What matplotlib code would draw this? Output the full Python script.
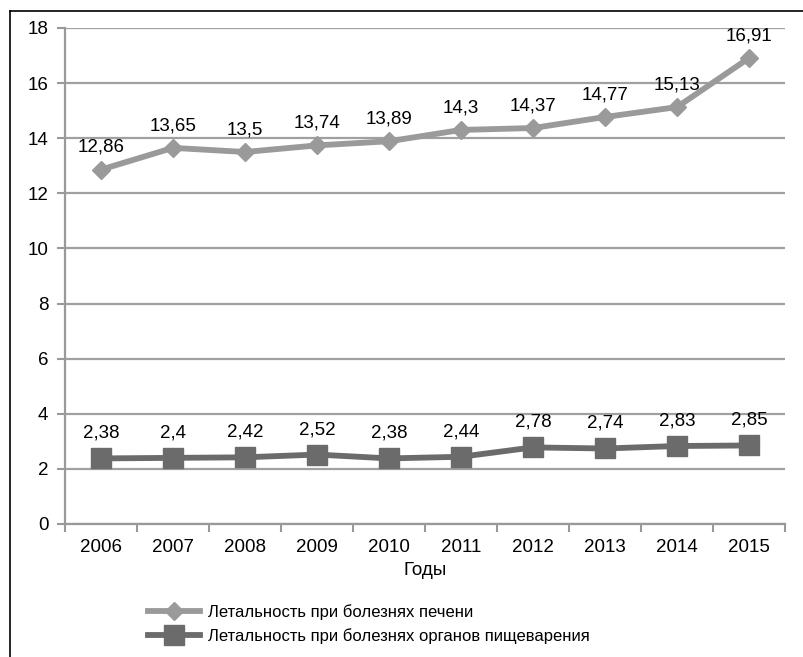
import matplotlib
matplotlib.use("Agg")
import matplotlib.pyplot as plt
from matplotlib.lines import Line2D
import numpy as np

plt.rcParams['font.family'] = ['Liberation Sans', 'DejaVu Sans']

years = ['2006', '2007', '2008', '2009', '2010', '2011', '2012', '2013', '2014', '2015']
liver = [12.86, 13.65, 13.5, 13.74, 13.89, 14.3, 14.37, 14.77, 15.13, 16.91]
digestive = [2.38, 2.4, 2.42, 2.52, 2.38, 2.44, 2.78, 2.74, 2.83, 2.85]
liver_name = 'Летальность при болезнях печени'
digestive_name = 'Летальность при болезнях органов пищеварения'

fig = plt.figure(figsize=(8.04, 6.57), dpi=100)
ax = fig.add_axes([65/804, 1-524/657, 720/804, (524-28)/657])

x = np.arange(len(years))
c_liver = '#9a9a9a'
c_dig = '#6b6b6b'
ax.plot(x, liver, color=c_liver, lw=4.2, marker='D', ms=9.5, zorder=3)
ax.plot(x, digestive, color=c_dig, lw=4.2, marker='s', ms=14, zorder=3)

fs = 13.5
for xi, v in zip(x, liver):
    ax.annotate(f'{v:g}'.replace('.', ','), (xi, v), xytext=(0, 16), textcoords='offset points',
                ha='center', va='center', fontsize=fs)
for xi, v in zip(x, digestive):
    ax.annotate(f'{v:g}'.replace('.', ','), (xi, v), xytext=(0, 18), textcoords='offset points',
                ha='center', va='center', fontsize=fs)

ax.set_xlim(-0.5, len(years) - 0.5)
ax.set_ylim(0, 18)
ax.set_yticks(np.arange(0, 19, 2))
ax.set_xticks(x)
ax.set_xticklabels(years)
ax.set_xticks(np.arange(-0.5, len(years), 1), minor=True)
ax.tick_params(axis='x', which='major', length=0, labelsize=fs, pad=11)
ax.tick_params(axis='x', which='minor', length=6, width=1.5, color='#999999')
ax.tick_params(axis='y', length=6, width=1.5, color='#999999', labelsize=fs, pad=6)
ax.yaxis.grid(True, color='#a0a0a0', lw=1.6)
ax.set_axisbelow(True)
for s in ['top', 'right']:
    ax.spines[s].set_visible(False)
for s in ['left', 'bottom']:
    ax.spines[s].set_color('#999999')
    ax.spines[s].set_linewidth(1.6)
ax.set_xlabel('Годы', fontsize=fs, labelpad=4)

handles = [Line2D([], [], color=c_liver, lw=4.2, marker='D', ms=9.5),
           Line2D([], [], color=c_dig, lw=4.2, marker='s', ms=14)]
fig.legend(handles, [liver_name, digestive_name], loc='center left', bbox_to_anchor=(133/804, 1-624/657),
           frameon=False, fontsize=12, handlelength=3.1, handletextpad=0.5, labelspacing=0.45)

# outer frame (left and top edges visible)
fig.add_artist(Line2D([10/804, 10/804], [0, 1-11/657], color='black', lw=1.2, transform=fig.transFigure))
fig.add_artist(Line2D([10/804, 1], [1-11/657, 1-11/657], color='black', lw=1.2, transform=fig.transFigure))

fig.savefig('out.png', dpi=100)
